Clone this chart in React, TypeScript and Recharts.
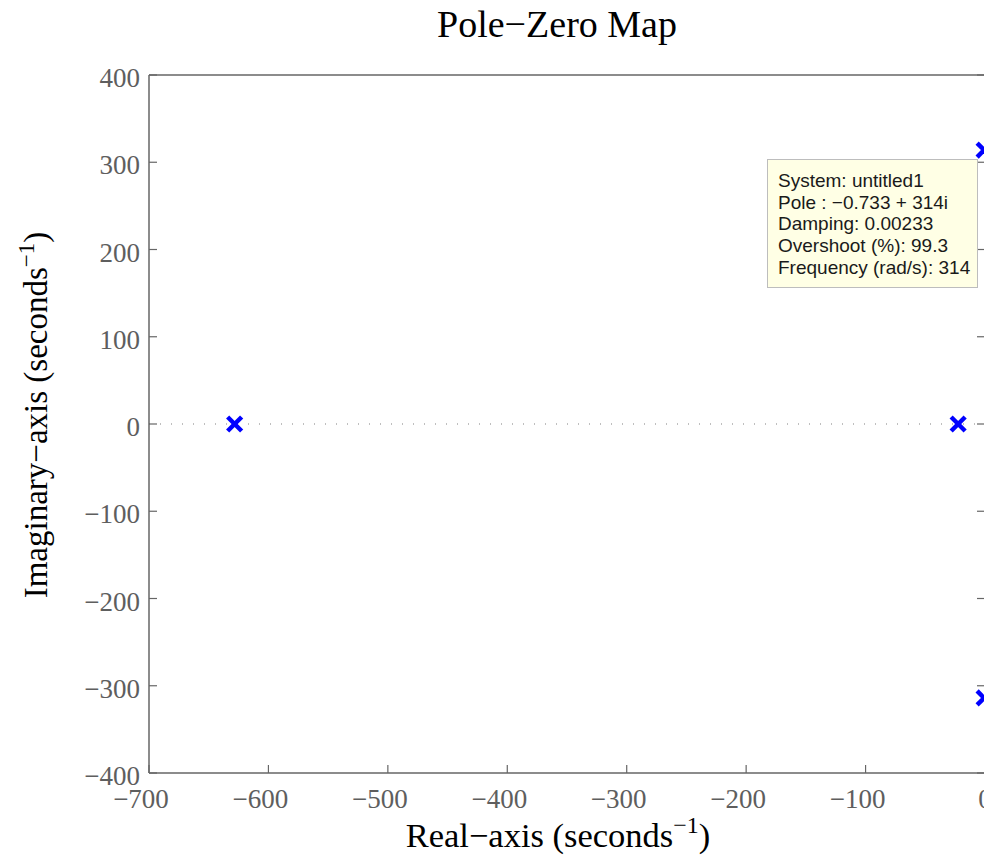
import { ReferenceLine, Scatter, ScatterChart, XAxis, YAxis } from "recharts";

// pole locations of the system (real part, imaginary part)
const poleReal = [-628.3, -22.5, -0.733, -0.733];
const poleImag = [0, 0, 314, -314];

const realTicks = [-700, -600, -500, -400, -300, -200, -100, 0];
const imagTicks = [-400, -300, -200, -100, 0, 100, 200, 300, 400];

// data tip shown on the upper oscillatory pole
const tipPole = 2;
const tipSystem = "untitled1";
const tipDamping = "0.00233";
const tipOvershoot = "99.3";
const tipFrequency = "314";

const serif = "'Liberation Serif', 'Times New Roman', serif";
const sans = "'Liberation Sans', Arial, sans-serif";
const axisColor = "#666666";
const tickColor = "#5e5e5e";

const minus = (v: number | string) => String(v).replace("-", "\u2212");

const poles = poleReal.map((re, i) => ({ re, im: poleImag[i] }));

function PoleMark(props: any) {
  const { cx, cy } = props;
  const r = 7;
  return (
    <g stroke="#0000ff" strokeWidth={4.5}>
      <line x1={cx - r} y1={cy - r} x2={cx + r} y2={cy + r} />
      <line x1={cx - r} y1={cy + r} x2={cx + r} y2={cy - r} />
    </g>
  );
}

function RealTick({ x, y, payload }: any) {
  // negative labels sit a little left of their tick
  const shift = payload.value < 0 ? -8 : 0;
  return (
    <text
      x={x}
      y={y}
      dx={shift}
      dy={27}
      textAnchor="middle"
      fill={tickColor}
      fontSize={27}
      fontFamily={serif}
    >
      {minus(payload.value)}
    </text>
  );
}

function ImagTick({ x, y, payload }: any) {
  return (
    <text x={x} y={y} dy={12} textAnchor="end" fill={tickColor} fontSize={27} fontFamily={serif}>
      {minus(payload.value)}
    </text>
  );
}

const blank = () => "";

export default function App() {
  const tip = [
    `System: ${tipSystem}`,
    `Pole : ${minus(poleReal[tipPole])} + ${poleImag[tipPole]}i`,
    `Damping: ${tipDamping}`,
    `Overshoot (%): ${tipOvershoot}`,
    `Frequency (rad/s): ${tipFrequency}`,
  ];

  return (
    <div
      style={{
        position: "fixed",
        left: 0,
        top: 0,
        width: 984,
        height: 859,
        overflow: "hidden",
        background: "#fff",
      }}
    >
      <ScatterChart
        width={1040}
        height={859}
        margin={{ top: 74, right: 54, bottom: 56, left: 89 }}
      >
        <XAxis
          xAxisId="bottom"
          type="number"
          dataKey="re"
          domain={[-700, 0]}
          ticks={realTicks}
          interval={0}
          allowDataOverflow
          height={30}
          tickSize={-8}
          tickMargin={16}
          tick={<RealTick />}
          axisLine={{ stroke: axisColor, strokeWidth: 1.5 }}
          tickLine={{ stroke: axisColor, strokeWidth: 1.2 }}
        />
        <XAxis
          xAxisId="top"
          orientation="top"
          type="number"
          domain={[-700, 0]}
          ticks={realTicks}
          interval={0}
          allowDataOverflow
          height={1}
          tickSize={-8}
          tickFormatter={blank}
          axisLine={{ stroke: axisColor, strokeWidth: 1.5 }}
          tickLine={{ stroke: axisColor, strokeWidth: 1.2 }}
        />
        <YAxis
          yAxisId="left"
          type="number"
          dataKey="im"
          domain={[-400, 400]}
          ticks={imagTicks}
          interval={0}
          allowDataOverflow
          width={60}
          tickSize={-8}
          tickMargin={17}
          tick={<ImagTick />}
          axisLine={{ stroke: axisColor, strokeWidth: 1.5 }}
          tickLine={{ stroke: axisColor, strokeWidth: 1.2 }}
        />
        <YAxis
          yAxisId="right"
          orientation="right"
          type="number"
          domain={[-400, 400]}
          ticks={imagTicks}
          interval={0}
          allowDataOverflow
          width={1}
          tickSize={-8}
          tickFormatter={blank}
          axisLine={{ stroke: axisColor, strokeWidth: 1.5 }}
          tickLine={{ stroke: axisColor, strokeWidth: 1.2 }}
        />
        <ReferenceLine
          xAxisId="bottom"
          yAxisId="left"
          y={0}
          stroke="#808080"
          strokeWidth={1.2}
          strokeDasharray="1 10"
        />
        <ReferenceLine
          xAxisId="bottom"
          yAxisId="left"
          x={0}
          stroke="#808080"
          strokeWidth={1.2}
          strokeDasharray="1 10"
        />
        <Scatter
          xAxisId="bottom"
          yAxisId="left"
          data={poles}
          shape={<PoleMark />}
          isAnimationActive={false}
        />
      </ScatterChart>

      <svg
        width={984}
        height={859}
        style={{ position: "absolute", left: 0, top: 0, pointerEvents: "none" }}
      >
        <text x={557} y={37} textAnchor="middle" fontSize={38} fontFamily={serif} fill="#000">
          Pole{"\u2212"}Zero Map
        </text>
        <text x={558} y={847} textAnchor="middle" fontSize={34.5} fontFamily={serif} fill="#000">
          Real{"\u2212"}axis (seconds
          <tspan dy={-14} fontSize={24}>{"\u2212"}1</tspan>
          <tspan dy={14}>)</tspan>
        </text>
        <text
          transform="translate(47,415) rotate(-90)"
          textAnchor="middle"
          fontSize={33}
          fontFamily={serif}
          fill="#000"
        >
          Imaginary{"\u2212"}axis (seconds
          <tspan dy={-13} fontSize={23}>{"\u2212"}1</tspan>
          <tspan dy={13}>)</tspan>
        </text>
      </svg>

      <div
        style={{
          position: "absolute",
          left: 767,
          top: 159,
          width: 211,
          height: 129,
          boxSizing: "border-box",
          border: "1px solid #bdbdbd",
          background: "#ffffe5",
          padding: "10px 0 0 10px",
          fontFamily: sans,
          fontSize: 19,
          lineHeight: "21.7px",
          color: "#1a1a1a",
          whiteSpace: "nowrap",
        }}
      >
        {tip.map((line) => (
          <div key={line}>{line}</div>
        ))}
      </div>
    </div>
  );
}
